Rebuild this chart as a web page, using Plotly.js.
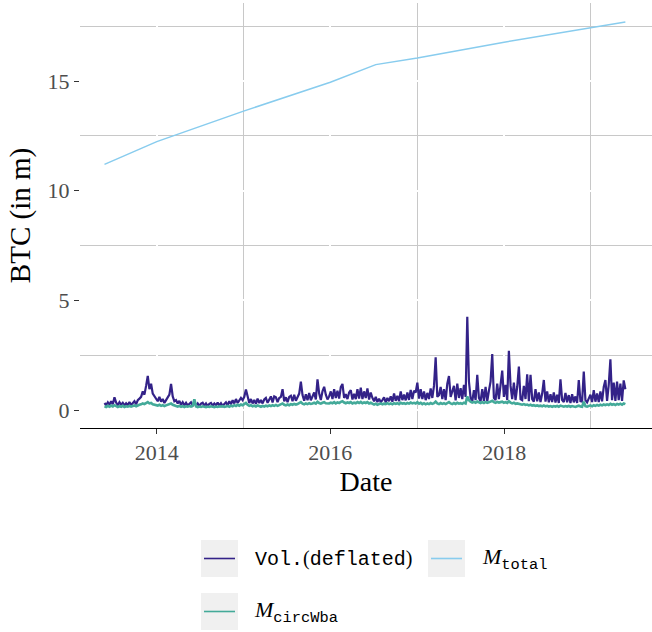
<!DOCTYPE html>
<html><head><meta charset="utf-8">
<script src="https://cdn.plot.ly/plotly-3.0.1.min.js"></script>
<style>body{margin:0;padding:0;background:#fff}</style>
</head><body><div id="chart" style="width:652px;height:632px"></div>
<script>
// ---- data ----
const seriesNames = ['Vol.(deflated)', 'M_circWba', 'M_total'];
const weeklyStart = '2013-05-26';   // weekly observations
const volDeflated = [
  // 2013 (late May - Dec)
  0.32,0.22,0.35,0.24,0.40,0.26,0.58,0.34,0.22,0.36,0.24,0.33,0.21,0.31,0.22,0.36,0.23,0.33,0.40,0.26,0.45,0.52,0.60,0.85,0.70,1.10,1.56,0.95,1.20,0.75,0.62,
  // 2014
  0.55,0.40,0.60,0.38,0.50,0.32,0.45,0.55,0.70,1.19,0.62,0.40,0.45,0.30,0.42,0.24,0.36,0.22,0.33,0.20,0.30,0.35,0.21,0.32,0.20,0.30,0.19,0.29,0.33,0.20,
  0.30,0.18,0.28,0.32,0.20,0.30,0.21,0.34,0.20,0.31,0.19,0.29,0.35,0.22,0.40,0.26,0.45,0.30,0.50,0.32,0.46,0.55,
  // 2015
  0.45,0.60,0.94,0.55,0.32,0.50,0.30,0.46,0.28,0.52,0.32,0.46,0.30,0.48,0.55,0.33,0.50,0.62,0.35,0.62,0.58,0.36,0.55,0.60,0.95,0.40,0.58,0.36,0.60,0.65,
  0.40,0.70,0.42,0.62,0.75,1.29,0.68,0.42,0.72,0.45,0.78,0.44,0.66,0.80,0.48,1.40,0.75,0.46,0.85,1.06,0.70,0.48,
  // 2016
  0.62,0.85,0.50,0.95,0.55,0.88,0.52,1.05,1.19,0.55,0.72,0.50,0.80,0.90,0.48,0.74,0.50,0.95,0.52,1.02,0.50,0.85,0.55,0.98,0.48,0.80,0.55,0.40,0.60,0.36,
  0.52,0.36,0.45,0.58,0.35,0.55,0.40,0.62,0.38,0.75,0.42,0.65,0.40,0.85,0.45,0.70,0.44,0.80,0.46,0.92,0.50,0.88,
  // 2017
  0.80,1.25,0.52,0.95,0.50,0.85,0.45,0.78,0.50,0.98,0.55,1.10,2.40,0.60,0.68,1.05,0.50,0.95,0.45,1.20,1.55,0.60,0.85,1.10,0.44,1.20,0.55,1.00,0.50,1.15,
  0.60,4.25,1.30,0.55,0.40,0.90,0.45,1.60,0.55,0.40,0.95,0.42,1.05,0.40,0.88,1.30,2.55,0.55,0.45,1.20,0.50,1.05,
  // 2018
  1.80,0.60,1.15,0.45,2.70,1.10,0.50,1.25,0.45,1.05,1.98,0.50,0.45,1.10,0.50,1.63,0.40,1.60,0.50,0.38,0.95,0.40,0.80,0.36,0.75,1.37,0.38,0.85,0.35,0.72,
  0.36,0.80,0.34,0.70,0.32,1.40,0.45,0.36,0.78,0.35,0.68,0.32,0.72,0.35,0.62,0.32,1.37,0.40,0.38,1.75,0.45,0.35,
  // 2019 (Jan - May)
  0.55,0.70,0.36,0.91,0.38,0.75,0.36,0.85,0.40,1.05,1.37,0.42,1.15,2.31,0.45,1.25,0.42,1.30,0.45,1.20,0.42,1.35,0.95
];
const mCircWba = [
  // 2013
  0.17,0.14,0.19,0.15,0.20,0.16,0.22,0.17,0.14,0.18,0.15,0.19,0.14,0.17,0.15,0.19,0.16,0.18,0.21,0.17,0.22,0.24,0.26,0.30,0.27,0.33,0.36,0.30,0.32,0.26,0.24,
  // 2014
  0.22,0.20,0.24,0.19,0.22,0.18,0.21,0.24,0.26,0.30,0.24,0.20,0.18,0.16,0.19,0.15,0.18,0.14,0.17,0.15,0.18,0.16,0.19,0.49,0.17,0.13,0.16,0.14,0.17,0.15,
  0.13,0.16,0.14,0.17,0.15,0.13,0.16,0.14,0.17,0.15,0.18,0.14,0.16,0.19,0.15,0.20,0.17,0.22,0.18,0.24,0.20,0.25,
  // 2015
  0.22,0.26,0.32,0.24,0.19,0.22,0.17,0.20,0.16,0.21,0.18,0.15,0.19,0.16,0.20,0.17,0.21,0.18,0.22,0.19,0.23,0.19,0.22,0.25,0.30,0.24,0.21,0.25,0.22,0.27,
  0.24,0.28,0.25,0.27,0.30,0.36,0.29,0.26,0.30,0.27,0.31,0.28,0.30,0.33,0.29,0.38,0.32,0.29,0.33,0.36,0.31,0.29,
  // 2016
  0.30,0.34,0.31,0.36,0.30,0.35,0.32,0.37,0.40,0.34,0.31,0.35,0.32,0.36,0.30,0.34,0.31,0.36,0.32,0.37,0.31,0.35,0.32,0.36,0.30,0.33,0.28,0.25,0.29,0.24,
  0.27,0.30,0.26,0.29,0.27,0.31,0.27,0.30,0.26,0.31,0.28,0.31,0.27,0.33,0.29,0.31,0.28,0.32,0.29,0.34,0.30,0.33,
  // 2017
  0.30,0.36,0.29,0.33,0.27,0.31,0.26,0.30,0.27,0.32,0.28,0.31,0.38,0.30,0.27,0.32,0.28,0.31,0.27,0.33,0.36,0.30,0.27,0.32,0.28,0.33,0.29,0.31,0.28,0.33,
  0.30,0.62,0.45,0.38,0.34,0.37,0.33,0.39,0.35,0.32,0.36,0.32,0.37,0.33,0.35,0.38,0.42,0.36,0.33,0.37,0.34,0.36,
  // 2018
  0.38,0.33,0.36,0.32,0.40,0.34,0.30,0.33,0.28,0.30,0.29,0.26,0.24,0.27,0.23,0.25,0.21,0.24,0.20,0.22,0.19,0.21,0.18,0.20,0.17,0.21,0.17,0.19,0.16,0.18,
  0.15,0.18,0.16,0.19,0.15,0.20,0.17,0.15,0.18,0.16,0.19,0.15,0.18,0.16,0.14,0.17,0.20,0.16,0.15,0.38,0.17,0.15,
  // 2019
  0.18,0.21,0.17,0.22,0.19,0.23,0.20,0.24,0.21,0.25,0.22,0.26,0.23,0.28,0.24,0.27,0.23,0.28,0.25,0.29,0.24,0.30,0.27
];
const mTotalDates = ['2013-05-26','2014-01-01','2015-01-01','2016-01-01','2016-07-10','2017-01-01','2018-01-01','2019-01-01','2019-05-26'];
const mTotal      = [11.20, 12.24, 13.63, 14.95, 15.75, 16.05, 16.77, 17.45, 17.69];
const xTickYears = ['2014','2016','2018'];

// ---- build weekly date axis ----
const weeklyDates = [];
{
  const t0 = Date.parse(weeklyStart + 'T00:00:00Z');
  for (let i = 0; i < volDeflated.length; i++) {
    weeklyDates.push(new Date(t0 + i * 7 * 86400000).toISOString().slice(0, 10));
  }
}

const colors = {vol: '#332288', circ: '#44AA99', total: '#88CCEE'};
const serif = 'Liberation Serif';
const mono = 'Liberation Mono';

const traces = [
  {x: weeklyDates, y: volDeflated, type: 'scatter', mode: 'lines', name: seriesNames[0],
   line: {color: colors.vol, width: 2.2}, showlegend: false},
  {x: weeklyDates, y: mCircWba, type: 'scatter', mode: 'lines', name: seriesNames[1],
   line: {color: colors.circ, width: 2.6}, showlegend: false},
  {x: mTotalDates, y: mTotal, type: 'scatter', mode: 'lines', name: seriesNames[2],
   line: {color: colors.total, width: 1.5}, showlegend: false}
];

// plot-area geometry (pixels) used for the hand-laid legend
const W = 652, H = 632, L = 80, R = 0, T = 3, B = 204;
const pw = W - L - R, ph = H - T - B;
const px = x => (x - L) / pw;
const py = y => (H - B - y) / ph;

const legendItems = [
  {box: [201, 540], color: colors.vol, tx: 253, fam: mono, size: 20,
   text: 'Vol.<span style="font-family:Liberation Serif">(</span>deflated<span style="font-family:Liberation Serif">)</span>'},
  {box: [428, 540], color: colors.total, tx: 480, fam: serif, size: 22,
   text: '<i>M</i><sub style="font-family:Liberation Mono">total</sub>'},
  {box: [201, 593], color: colors.circ, tx: 252, fam: serif, size: 22,
   text: '<i>M</i><sub style="font-family:Liberation Mono">circWba</sub>'}
];
const shapes = [], annotations = [];
legendItems.forEach(it => {
  const [bx, by] = it.box, s = 37;
  shapes.push({type: 'rect', xref: 'paper', yref: 'paper', x0: px(bx), x1: px(bx + s), y0: py(by + s), y1: py(by),
    fillcolor: '#f0f0f0', line: {width: 0}, layer: 'below'});
  shapes.push({type: 'line', xref: 'paper', yref: 'paper', x0: px(bx + 3), x1: px(bx + s - 3), y0: py(by + s / 2), y1: py(by + s / 2),
    line: {color: it.color, width: 1.6}});
  annotations.push({xref: 'paper', yref: 'paper', x: px(it.tx), y: py(by + s / 2), xanchor: 'left', yanchor: 'middle',
    showarrow: false, text: it.text, font: {family: it.fam, size: it.size, color: '#000'}});
});

const layout = {
  width: W, height: H,
  margin: {l: L, r: R, t: T, b: B, pad: 0},
  paper_bgcolor: '#fff', plot_bgcolor: '#fff',
  showlegend: false,
  xaxis: {
    type: 'date', range: ['2013-02-12', '2019-09-15'],
    tickmode: 'array', tickvals: xTickYears.map(y => y + '-01-01'), ticktext: xTickYears,
    ticks: 'outside', ticklen: 5, tickwidth: 1, tickcolor: '#333',
    showline: true, linecolor: '#000', linewidth: 1,
    showgrid: true, gridcolor: '#ffffff', gridwidth: 2,
    minor: {dtick: 'M12', tick0: '2013-01-01', showgrid: true, gridcolor: '#c8c8c8', gridwidth: 1, ticks: ''},
    zeroline: false, automargin: false,
    tickfont: {family: serif, size: 22, color: '#4d4d4d'},
    title: {text: 'Date', font: {family: serif, size: 28, color: '#000'}, standoff: 6}
  },
  yaxis: {
    range: [-0.82, 18.56], tick0: 0, dtick: 5,
    ticks: 'outside', ticklen: 5, tickwidth: 1, tickcolor: '#333',
    showline: false,
    showgrid: true, gridcolor: '#ffffff', gridwidth: 2,
    minor: {dtick: 2.5, tick0: 0, showgrid: true, gridcolor: '#c8c8c8', gridwidth: 1, ticks: ''},
    zeroline: false, automargin: false,
    tickfont: {family: serif, size: 22, color: '#4d4d4d'},
    title: {text: 'BTC (in m)', font: {family: serif, size: 29, color: '#000'}, standoff: 8}
  },
  shapes: shapes,
  annotations: annotations
};

Plotly.newPlot('chart', traces, layout, {displayModeBar: false, staticPlot: true});
</script></body></html>
